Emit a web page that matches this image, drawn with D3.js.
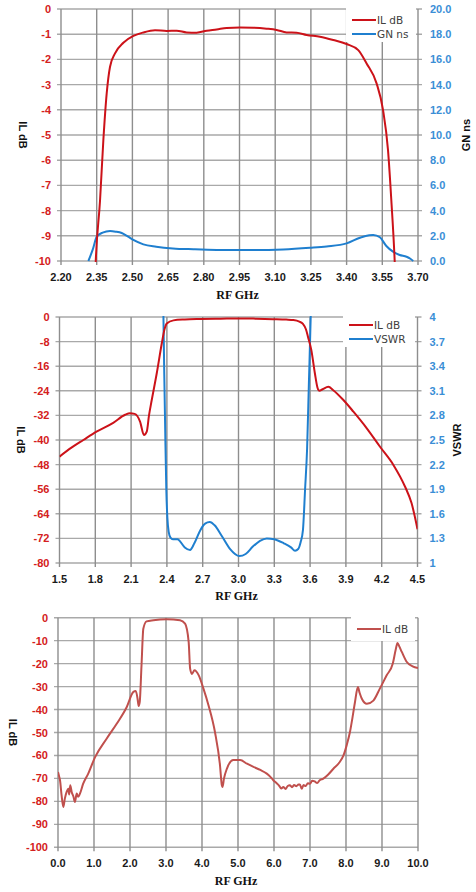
<!DOCTYPE html>
<html>
<head>
<meta charset="utf-8">
<title>filter response</title>
<script src="https://cdn.jsdelivr.net/npm/d3@7"></script>
<style>
  body { margin: 0; background: #fff; }
  svg { display: block; }
</style>
</head>
<body>
<script>
// ---- chart 1: passband IL + group delay ----
var c1Freq = [2.340, 2.346, 2.364, 2.378, 2.392, 2.406, 2.427, 2.462, 2.504, 2.546, 2.595, 2.644, 2.686,
              2.728, 2.770, 2.812, 2.854, 2.896, 2.952, 3.008, 3.064, 3.106, 3.148, 3.190, 3.232, 3.288,
              3.344, 3.400, 3.449, 3.484, 3.526, 3.553, 3.574, 3.588, 3.602, 3.608];
var c1IL   = [-11.5, -10, -7.6, -5.2, -3.35, -2.29, -1.76, -1.34, -1.07, -0.93, -0.84, -0.87, -0.86,
              -0.93, -0.94, -0.86, -0.81, -0.75, -0.73, -0.74, -0.78, -0.83, -0.93, -0.94, -1.03, -1.10,
              -1.23, -1.39, -1.63, -2.16, -2.95, -4.0, -5.6, -7.6, -10, -11.5];
var c1GnFreq = [2.315, 2.335, 2.350, 2.375, 2.406, 2.430, 2.455, 2.480, 2.504, 2.546, 2.600, 2.670, 2.756,
                2.854, 2.994, 3.134, 3.246, 3.316, 3.400, 3.456, 3.495, 3.512, 3.540, 3.567, 3.595, 3.623,
                3.652, 3.668, 3.680];
var c1Gn     = [0, 1.0, 1.93, 2.25, 2.38, 2.33, 2.22, 1.95, 1.67, 1.32, 1.14, 1.0, 0.93,
                0.88, 0.87, 0.92, 1.05, 1.16, 1.40, 1.85, 2.05, 2.07, 1.88, 1.19, 0.74, 0.48,
                0.34, 0.18, 0];
var c1XTicks = [2.20, 2.35, 2.50, 2.65, 2.80, 2.95, 3.10, 3.25, 3.40, 3.55, 3.70];
var c1YTicks = [0, -1, -2, -3, -4, -5, -6, -7, -8, -9, -10];
var c1Y2Ticks = [0, 2, 4, 6, 8, 10, 12, 14, 16, 18, 20];

// ---- chart 2: wider band IL + VSWR ----
var c2Freq = [1.50, 1.60, 1.70, 1.81, 1.95, 2.05, 2.09, 2.13, 2.175, 2.208, 2.231, 2.25, 2.273, 2.315,
              2.357, 2.38, 2.399, 2.455, 2.55, 2.68, 2.85, 3.00, 3.15, 3.29, 3.40, 3.46, 3.51, 3.54,
              3.565, 3.582, 3.61, 3.64, 3.662, 3.678, 3.705, 3.753, 3.794, 3.879, 3.963, 4.075, 4.186,
              4.298, 4.396, 4.45, 4.50];
var c2IL   = [-45.4, -42.5, -40.0, -37.3, -34.4, -31.8, -31.3, -31.5, -34.0, -38.4, -37.3, -32, -27, -18.3,
              -8.6, -4, -2.1, -1.1, -0.8, -0.65, -0.55, -0.45, -0.55, -0.7, -0.85, -1.0, -1.5, -2.2,
              -4, -6.4, -10.7, -18.3, -23, -24.0, -23.5, -22.7, -23.8, -27, -30.8, -36.2, -42.2,
              -48.1, -55.2, -60.5, -69];
var c2VFreq = [2.366, 2.371, 2.378, 2.386, 2.395, 2.404, 2.415, 2.43, 2.45, 2.49, 2.50, 2.55, 2.594,
               2.63, 2.68, 2.72, 2.76, 2.80, 2.86, 2.93, 3.007, 3.06, 3.12, 3.18, 3.237, 3.30, 3.38,
               3.44, 3.474, 3.50, 3.52, 3.54, 3.558, 3.575, 3.59, 3.605, 3.612];
var c2Vswr  = [4.5, 4.0, 3.3, 2.6, 1.9, 1.55, 1.38, 1.31, 1.29, 1.29, 1.28, 1.19, 1.16,
               1.24, 1.40, 1.48, 1.50, 1.46, 1.33, 1.17, 1.085, 1.11, 1.20, 1.27, 1.30, 1.29, 1.24,
               1.19, 1.15, 1.17, 1.25, 1.40, 1.9, 2.4, 3.2, 4.0, 4.5];
var c2XTicks = [1.5, 1.8, 2.1, 2.4, 2.7, 3.0, 3.3, 3.6, 3.9, 4.2, 4.5];
var c2YTicks = [0, -8, -16, -24, -32, -40, -48, -56, -64, -72, -80];
var c2Y2Ticks = [1, 1.3, 1.6, 1.9, 2.2, 2.5, 2.8, 3.1, 3.4, 3.7, 4];

// ---- chart 3: broadband IL ----
var c3Freq = [0.00, 0.03, 0.056, 0.10, 0.148, 0.19, 0.24, 0.29, 0.31, 0.34, 0.38, 0.43, 0.47, 0.52, 0.56,
              0.61, 0.70, 0.84, 1.03, 1.35, 1.63, 1.91, 2.09, 2.16, 2.21, 2.24, 2.27, 2.32, 2.37, 2.46,
              2.65, 3.02, 3.39, 3.53, 3.63, 3.67, 3.72, 3.79, 3.91, 4.04, 4.18, 4.36, 4.50, 4.55, 4.57,
              4.61, 4.69, 4.87, 5.06, 5.25, 5.43, 5.62, 5.80, 5.90, 5.98, 6.06, 6.14, 6.20, 6.26, 6.32,
              6.38, 6.44, 6.50, 6.56, 6.62, 6.68, 6.72, 6.77, 6.82, 6.88, 6.94, 7.00, 7.06, 7.13, 7.20,
              7.27, 7.37, 7.50, 7.65, 7.80, 7.93, 8.02, 8.11, 8.18, 8.25, 8.33, 8.38, 8.44, 8.58, 8.76,
              8.94, 9.13, 9.30, 9.38, 9.43, 9.48, 9.55, 9.69, 9.85, 10.0];
var c3IL   = [-67.2, -69, -70.8, -77.4, -82.4, -78.8, -75.9, -74.5, -77, -73.0, -75.9, -78.0, -80.3, -76.6, -78.0,
              -76.6, -72.3, -67.9, -60.7, -52.7, -46.2, -38.9, -32.4, -31.9, -35.3, -38.5, -36.8, -20.7, -4.8, -1.6,
              -1.1, -0.7, -1.1, -2.6, -10.6, -22.2, -24.5, -22.9, -25.1, -30.9, -38.1, -49.8, -64.3, -72.9, -73.7,
              -70.1, -65.8, -62.0, -62.0, -63.6, -65.0, -66.3, -67.9, -69.3, -70.8, -71.9, -73.1, -74.4, -73.7, -74.6,
              -73.3, -73.0, -73.8, -72.9, -73.4, -72.7, -72.7, -74.5, -72.9, -73.3, -72.1, -72.3, -71.0, -71.3, -72.0,
              -70.8, -70.1, -68.4, -65.8, -63.4, -60.0, -55.5, -49.8, -43.5, -36.7, -30.2, -32.8, -35.3, -37.5, -36.1,
              -30.9, -25.1, -20.0, -14, -11.0, -12.5, -14.9, -19.3, -21.2, -21.9];
var c3XTicks = [0, 1, 2, 3, 4, 5, 6, 7, 8, 9, 10];
var c3YTicks = [0, -10, -20, -30, -40, -50, -60, -70, -80, -90, -100];

var RED = "#cc1219", BLUE = "#1f7fcf", RED3 = "#c0504d";
var LBL_RED = "#d42020", LBL_BLUE = "#3a8ed6";

var svg = d3.select("body").append("svg")
    .attr("width", 476).attr("height", 892);
svg.append("rect").attr("width", 476).attr("height", 892).attr("fill", "#fff");

function zip(a, b) { return a.map(function(d, i) { return [d, b[i]]; }); }

function drawPanel(p) {
  var g = svg.append("g");
  var x = d3.scaleLinear().domain([p.xTicks[0], p.xTicks[p.xTicks.length - 1]]).range([p.left, p.right]);
  var y = d3.scaleLinear().domain([d3.min(p.yTicks), d3.max(p.yTicks)]).range([p.bottom, p.top]);

  // grid (horizontal lines stick out a bit on the axis sides, vertical ones below)
  g.append("g").selectAll("line").data(p.yTicks).enter().append("line")
    .attr("x1", p.left - 4).attr("x2", p.right + (p.y2Ticks ? 4 : 0))
    .attr("y1", function(d) { return y(d); }).attr("y2", function(d) { return y(d); })
    .attr("stroke", "#a9a9a9").attr("stroke-width", 1.4);
  g.append("g").selectAll("line").data(p.xTicks).enter().append("line")
    .attr("x1", function(d) { return x(d); }).attr("x2", function(d) { return x(d); })
    .attr("y1", p.top).attr("y2", p.bottom + 4)
    .attr("stroke", "#8e8e8e").attr("stroke-width", 1.4);

  // tick labels
  g.append("g").selectAll("text").data(p.yTicks).enter().append("text")
    .attr("x", p.left - 10).attr("y", function(d) { return y(d) + 4; })
    .attr("text-anchor", "end")
    .attr("font-family", "Liberation Sans, Arial, sans-serif").attr("font-weight", "bold")
    .attr("font-size", "11px").attr("fill", LBL_RED)
    .text(function(d) { return d; });

  g.append("g").selectAll("text").data(p.xTicks).enter().append("text")
    .attr("x", function(d) { return x(d); }).attr("y", p.bottom + 20)
    .attr("text-anchor", "middle")
    .attr("font-family", "Liberation Sans, Arial, sans-serif").attr("font-weight", "bold")
    .attr("font-size", "11px").attr("fill", "#1a1a1a")
    .text(function(d) { return d3.format(p.xFmt)(d); });

  // axis titles
  g.append("text")
    .attr("x", (p.left + p.right) / 2 - 2).attr("y", p.xTitleY)
    .attr("text-anchor", "middle")
    .attr("font-family", "Liberation Serif, Times New Roman, serif").attr("font-weight", "bold")
    .attr("font-size", "12px").attr("fill", "#111")
    .text("RF  GHz");
  g.append("text")
    .attr("transform", "translate(" + p.yTitleX + "," + ((p.top + p.bottom) / 2) + ") rotate(90)")
    .attr("text-anchor", "middle")
    .attr("font-family", "Liberation Sans, Arial, sans-serif").attr("font-weight", "bold")
    .attr("font-size", "11px").attr("fill", "#111")
    .text("IL dB");

  var clipId = "clip" + p.id;
  svg.append("clipPath").attr("id", clipId).append("rect")
    .attr("x", p.left).attr("y", p.top - 1)
    .attr("width", p.right - p.left).attr("height", p.bottom - p.top + 2);

  var y2 = null;
  if (p.y2Ticks) {
    y2 = d3.scaleLinear().domain([d3.min(p.y2Ticks), d3.max(p.y2Ticks)]).range([p.bottom, p.top]);
    g.append("g").selectAll("text").data(p.y2Ticks).enter().append("text")
      .attr("x", p.right + 12).attr("y", function(d) { return y2(d) + 4; })
      .attr("text-anchor", "start")
      .attr("font-family", "Liberation Sans, Arial, sans-serif").attr("font-weight", "bold")
      .attr("font-size", "11px").attr("fill", LBL_BLUE)
      .text(function(d) { return p.y2Fmt ? d3.format(p.y2Fmt)(d) : d; });
    g.append("text")
      .attr("transform", "translate(" + p.y2TitleX + "," + ((p.top + p.bottom) / 2) + ") rotate(-90)")
      .attr("text-anchor", "middle")
      .attr("font-family", "Liberation Sans, Arial, sans-serif").attr("font-weight", "bold")
      .attr("font-size", "11px").attr("fill", "#111")
      .text(p.y2Title);
  }

  var line = d3.line().curve(d3.curveMonotoneX);
  var plot = g.append("g").attr("clip-path", "url(#" + clipId + ")");

  if (p.s2) {
    plot.append("path")
      .attr("d", line.x(function(d) { return x(d[0]); }).y(function(d) { return y2(d[1]); })(p.s2))
      .attr("fill", "none").attr("stroke", BLUE).attr("stroke-width", 2);
  }
  plot.append("path")
    .attr("d", line.x(function(d) { return x(d[0]); }).y(function(d) { return y(d[1]); })(p.s1))
    .attr("fill", "none").attr("stroke", p.color1).attr("stroke-width", 2);

  // legend
  var lg = g.append("g");
  lg.append("rect").attr("x", p.legend.x).attr("y", p.legend.y)
    .attr("width", p.legend.w).attr("height", p.legend.h).attr("fill", "#fff");
  p.legend.items.forEach(function(it, i) {
    var ly = p.legend.y + 12 + i * 14;
    lg.append("line").attr("x1", p.legend.x + 6).attr("x2", p.legend.x + 30)
      .attr("y1", ly).attr("y2", ly).attr("stroke", it.color).attr("stroke-width", 2);
    lg.append("text").attr("x", p.legend.x + 31).attr("y", ly + 4)
      .attr("font-family", "DejaVu Sans, Verdana, sans-serif").attr("font-size", "10.5px")
      .attr("fill", "#404040").text(it.name);
  });
}

drawPanel({
  id: 1, left: 61, right: 418, top: 9, bottom: 261,
  xTicks: c1XTicks, yTicks: c1YTicks, y2Ticks: c1Y2Ticks, xFmt: ".2f", y2Fmt: ".1f",
  xTitleY: 299, yTitleX: 19, y2TitleX: 470, y2Title: "GN ns",
  s1: zip(c1Freq, c1IL), s2: zip(c1GnFreq, c1Gn), color1: RED,
  legend: { x: 346, y: 8, w: 70, h: 34,
            items: [{ name: "IL dB", color: RED }, { name: "GN ns", color: BLUE }] }
});

drawPanel({
  id: 2, left: 59.5, right: 417.5, top: 317, bottom: 563,
  xTicks: c2XTicks, yTicks: c2YTicks, y2Ticks: c2Y2Ticks, xFmt: ".1f", y2Fmt: null,
  xTitleY: 600, yTitleX: 17, y2TitleX: 461, y2Title: "VSWR",
  s1: zip(c2Freq, c2IL), s2: zip(c2VFreq, c2Vswr), color1: RED,
  legend: { x: 343, y: 313, w: 72, h: 34,
            items: [{ name: "IL dB", color: RED }, { name: "VSWR", color: BLUE }] }
});

drawPanel({
  id: 3, left: 58, right: 418, top: 617.7, bottom: 847.3,
  xTicks: c3XTicks, yTicks: c3YTicks, y2Ticks: null, xFmt: ".1f",
  xTitleY: 885, yTitleX: 9,
  s1: zip(c3Freq, c3IL), s2: null, color1: RED3,
  legend: { x: 351, y: 617, w: 64, h: 24,
            items: [{ name: "IL dB", color: RED3 }] }
});
</script>
</body>
</html>
